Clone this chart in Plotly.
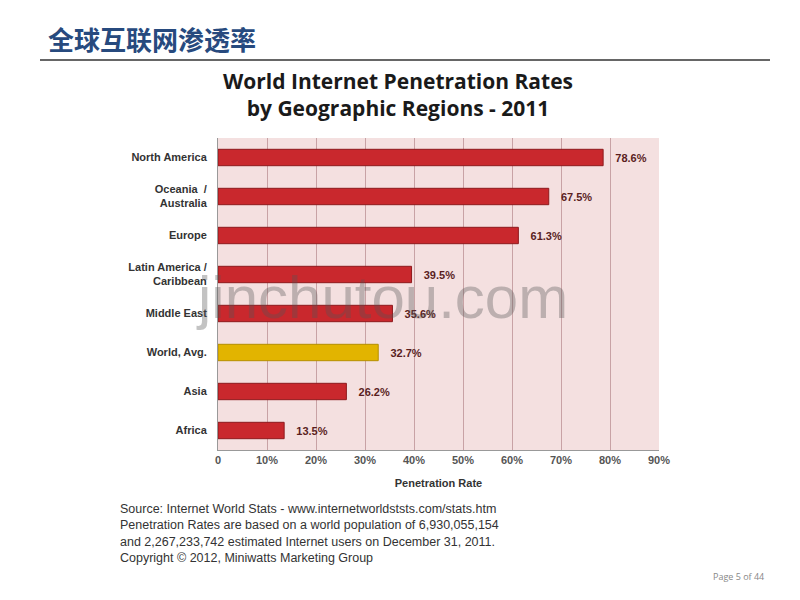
import plotly.graph_objects as go

regions = ["North America", "Oceania  /<br>Australia", "Europe", "Latin America /<br>Caribbean",
           "Middle East", "World, Avg.", "Asia", "Africa"]
rates = [78.6, 67.5, 61.3, 39.5, 35.6, 32.7, 26.2, 13.5]
bar_colors = ["#C9282D", "#C9282D", "#C9282D", "#C9282D", "#C9282D", "#E2B400", "#C9282D", "#C9282D"]
line_colors = ["#8E1A1D", "#8E1A1D", "#8E1A1D", "#8E1A1D", "#8E1A1D", "#B58F00", "#8E1A1D", "#8E1A1D"]
tick_vals = [0, 10, 20, 30, 40, 50, 60, 70, 80, 90]
tick_text = ["0", "10%", "20%", "30%", "40%", "50%", "60%", "70%", "80%", "90%"]
labels = [f"   <b>{v}%</b>" for v in rates]

fig = go.Figure()
fig.add_trace(go.Bar(
    x=rates, y=regions, orientation="h",
    marker=dict(color=bar_colors, line=dict(color=line_colors, width=1)),
    text=labels, textposition="outside",
    textfont=dict(family="Arial, Liberation Sans, sans-serif", size=11, color="#5A1E1E"),
    cliponaxis=False, width=0.42,
))

fig.update_layout(
    width=800, height=600,
    margin=dict(l=218, r=141, t=138, b=150),
    paper_bgcolor="white", plot_bgcolor="#F4E0E0",
    showlegend=False,
    font=dict(family="Arial, Liberation Sans, sans-serif"),
    xaxis=dict(range=[0, 90], tickvals=tick_vals, ticktext=[f"<b>{t}</b>" for t in tick_text],
               showgrid=True, gridcolor="#C8A2A5", gridwidth=1,
               tickfont=dict(size=11, color="#555555"),
               zeroline=False, showline=True, linecolor="#999999", ticks="",
               title=dict(text="<b>Penetration Rate</b>", font=dict(size=11, color="#333333"), standoff=14)),
    yaxis=dict(autorange="reversed", showgrid=False, showline=True, linecolor="#999999",
               tickvals=regions, ticktext=[f"<b>{r}</b>" for r in regions],
               tickfont=dict(size=11, color="#333333"),
               ticks="", ticklabelstandoff=8),
)

# page header
fig.add_annotation(text="<b>全球互联网渗透率</b>", xref="paper", yref="paper",
                   x=(46 - 218) / 441, y=(600 - 150 - 38) / 312, xanchor="left", yanchor="middle",
                   showarrow=False, font=dict(family="Noto Sans CJK SC", size=26, color="#274A7E"))
fig.add_shape(type="line", xref="paper", yref="paper",
              x0=(40 - 218) / 441, x1=(770 - 218) / 441,
              y0=(600 - 150 - 60) / 312, y1=(600 - 150 - 60) / 312,
              line=dict(color="#666666", width=2))
# chart title
fig.add_annotation(text="<b>World Internet Penetration Rates<br>by Geographic Regions - 2011</b>",
                   xref="paper", yref="paper", x=(398 - 218) / 441, y=(600 - 150 - 94) / 312,
                   xanchor="center", yanchor="middle", showarrow=False,
                   font=dict(family="Open Sans", size=21, color="#1A1A1A"))
# source text
fig.add_annotation(text="Source: Internet World Stats - www.internetworldststs.com/stats.htm<br>"
                        "Penetration Rates are based on a world population of 6,930,055,154<br>"
                        "and 2,267,233,742 estimated Internet users on December 31, 2011.<br>"
                        "Copyright © 2012, Miniwatts Marketing Group",
                   xref="paper", yref="paper", x=(118 - 218) / 441, y=(600 - 150 - 533) / 312,
                   xanchor="left", yanchor="middle", align="left", showarrow=False,
                   font=dict(family="Arial", size=12.5, color="#333333"))
# page number
fig.add_annotation(text="Page 5 of 44", xref="paper", yref="paper",
                   x=(738 - 218) / 441, y=(600 - 150 - 576) / 312, xanchor="center", yanchor="middle",
                   showarrow=False, font=dict(family="Open Sans", size=9, color="#888888"))
# watermark
fig.add_annotation(text="jinchutou.com", xref="paper", yref="paper",
                   x=(382 - 218) / 441, y=(600 - 150 - 297) / 312, xanchor="center", yanchor="middle",
                   showarrow=False, opacity=0.35,
                   font=dict(family="Liberation Sans", size=60, color="#555555"))

fig.write_html("out.html")
